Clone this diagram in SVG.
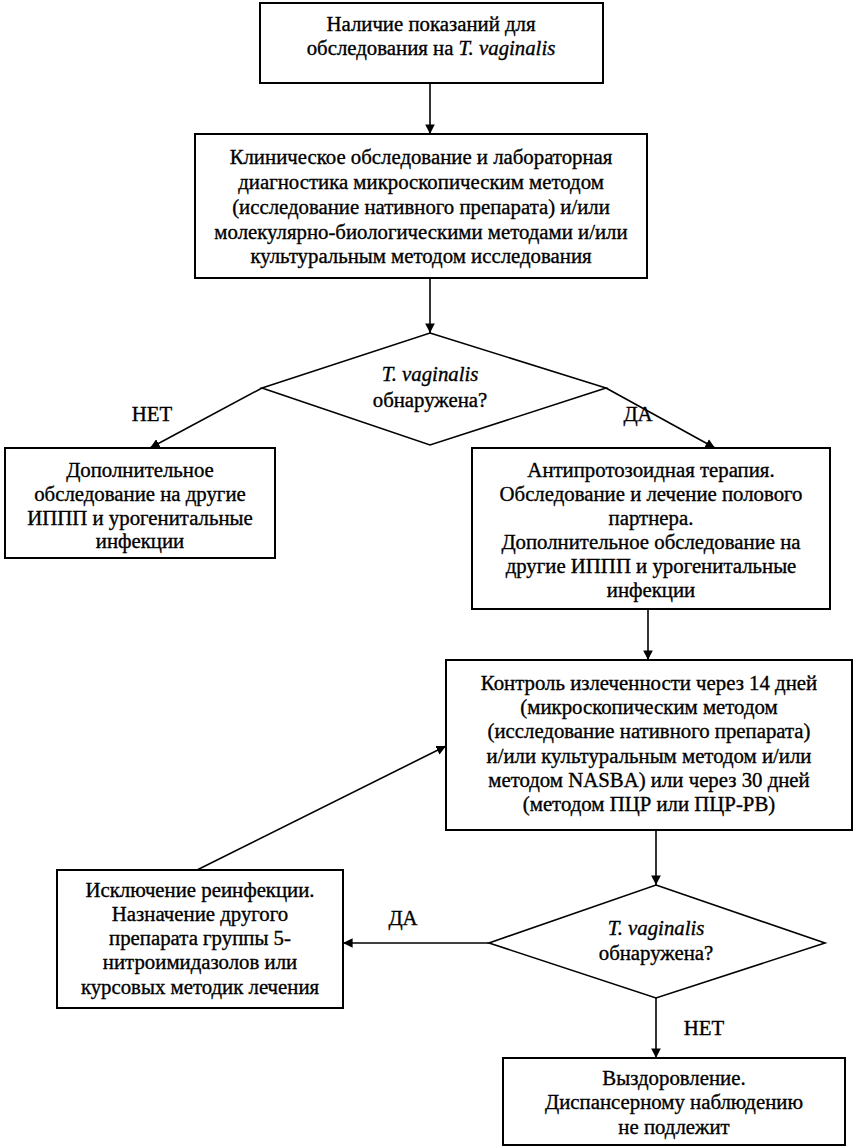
<svg xmlns="http://www.w3.org/2000/svg" width="857" height="1148" viewBox="0 0 857 1148" font-family="'Liberation Serif', serif" font-size="20.8">
<style>
.box{fill:#fff;stroke:#000;stroke-width:2}
.dia{fill:#fff;stroke:#000;stroke-width:1.6}
.t{fill:#000;stroke:#000;stroke-width:0.35;text-anchor:middle}
.i{font-style:italic}
.c{fill:none;stroke:#000;stroke-width:1.6;marker-end:url(#ah)}
</style>
<defs>
<marker id="ah" viewBox="0 0 10 10" refX="10" refY="5" markerWidth="6" markerHeight="6" orient="auto" markerUnits="strokeWidth">
<path d="M0,0 L10,5 L0,10 z" fill="#000"/>
</marker>
</defs>
<rect width="857" height="1148" fill="#fff"/>
<g id="connectors" font-family="Liberation Serif">
<line class="c" x1="430" y1="83" x2="430" y2="134"/>
<line class="c" x1="430" y1="278" x2="430" y2="333"/>
<line class="c" x1="262" y1="388" x2="150" y2="448"/>
<line class="c" x1="606" y1="388" x2="715" y2="448"/>
<line class="c" x1="648" y1="609" x2="648" y2="660"/>
<line class="c" x1="656" y1="830" x2="656" y2="885"/>
<line class="c" x1="489" y1="943" x2="343" y2="943"/>
<line class="c" x1="197" y1="870" x2="446" y2="746"/>
<line class="c" x1="656" y1="998" x2="656" y2="1058"/>
<text class="t" x="152" y="421">НЕТ</text>
<text class="t" x="638" y="421">ДА</text>
<text class="t" x="403" y="925">ДА</text>
<text class="t" x="704" y="1035">НЕТ</text>
</g>
<g id="n1" font-family="Liberation Serif">
<rect class="box" x="260" y="3" width="343" height="80"/>
<text class="t" x="431" y="31">Наличие показаний для</text>
<text class="t" x="431" y="55">обследования на <tspan class="i">T. vaginalis</tspan></text>
</g>
<g id="n2" font-family="Liberation Serif">
<rect class="box" x="195" y="134" width="452" height="144"/>
<text class="t" x="421" y="164">Клиническое обследование и лабораторная</text>
<text class="t" x="421" y="189">диагностика микроскопическим методом</text>
<text class="t" x="421" y="214">(исследование нативного препарата) и/или</text>
<text class="t" x="421" y="239">молекулярно-биологическими методами и/или</text>
<text class="t" x="421" y="263">культуральным методом исследования</text>
</g>
<g id="d1" font-family="Liberation Serif">
<polygon class="dia" points="430,333 606,388 430,445 262,388"/>
<text class="t" x="430" y="381"><tspan class="i">T. vaginalis</tspan></text>
<text class="t" x="430" y="407">обнаружена?</text>
</g>
<g id="n3" font-family="Liberation Serif">
<rect class="box" x="5" y="448" width="270" height="110"/>
<text class="t" x="140" y="477">Дополнительное</text>
<text class="t" x="140" y="501">обследование на другие</text>
<text class="t" x="140" y="525">ИППП и урогенитальные</text>
<text class="t" x="140" y="548">инфекции</text>
</g>
<g id="n4" font-family="Liberation Serif">
<rect class="box" x="472" y="448" width="358" height="161"/>
<text class="t" x="651" y="477">Антипротозоидная терапия.</text>
<text class="t" x="651" y="501">Обследование и лечение полового</text>
<text class="t" x="651" y="525">партнера.</text>
<text class="t" x="651" y="549">Дополнительное обследование на</text>
<text class="t" x="651" y="573">другие ИППП и урогенитальные</text>
<text class="t" x="651" y="597">инфекции</text>
</g>
<g id="n5" font-family="Liberation Serif">
<rect class="box" x="446" y="660" width="406" height="170"/>
<text class="t" x="649" y="690">Контроль излеченности через 14 дней</text>
<text class="t" x="649" y="714">(микроскопическим методом</text>
<text class="t" x="649" y="738">(исследование нативного препарата)</text>
<text class="t" x="649" y="763">и/или культуральным методом и/или</text>
<text class="t" x="649" y="787">методом NASBA) или через 30 дней</text>
<text class="t" x="649" y="811">(методом ПЦР или ПЦР-РВ)</text>
</g>
<g id="d2" font-family="Liberation Serif">
<polygon class="dia" points="656,885 825,943 656,998 489,943"/>
<text class="t" x="656" y="935"><tspan class="i">T. vaginalis</tspan></text>
<text class="t" x="656" y="960">обнаружена?</text>
</g>
<g id="n6" font-family="Liberation Serif">
<rect class="box" x="57" y="870" width="286" height="138"/>
<text class="t" x="200" y="897">Исключение реинфекции.</text>
<text class="t" x="200" y="921">Назначение другого</text>
<text class="t" x="200" y="945">препарата группы 5-</text>
<text class="t" x="200" y="969">нитроимидазолов или</text>
<text class="t" x="200" y="994">курсовых методик лечения</text>
</g>
<g id="n7" font-family="Liberation Serif">
<rect class="box" x="503" y="1058" width="342" height="87"/>
<text class="t" x="674" y="1085">Выздоровление.</text>
<text class="t" x="674" y="1109">Диспансерному наблюдению</text>
<text class="t" x="674" y="1134">не подлежит</text>
</g>
</svg>
